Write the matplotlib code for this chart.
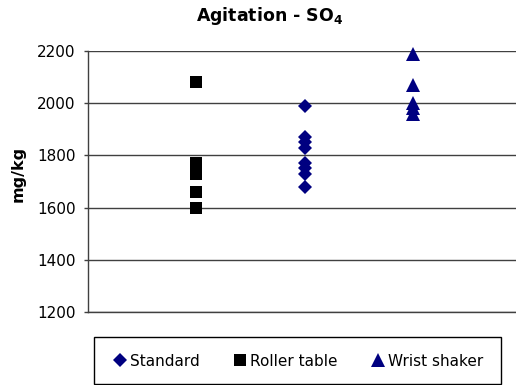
import matplotlib
matplotlib.use("Agg")
import matplotlib.pyplot as plt
from matplotlib.patches import Rectangle

plt.rcParams['font.family'] = ['DejaVu Sans']
plt.rcParams['mathtext.fontset'] = 'custom'
plt.rcParams['mathtext.rm'] = 'DejaVu Sans'
plt.rcParams['mathtext.bf'] = 'DejaVu Sans:bold'
plt.rcParams['mathtext.default'] = 'bf'

title = r'Agitation - SO$_4$'
ylabel = 'mg/kg'
series_names = ['Standard', 'Roller table', 'Wrist shaker']
series_x = [2, 1, 3]
standard = [1990, 1870, 1850, 1830, 1770, 1750, 1730, 1680]
roller_table = [2080, 1770, 1750, 1730, 1660, 1600]
wrist_shaker = [2190, 2070, 2000, 1980, 1960]
y_ticks = [1200, 1400, 1600, 1800, 2000, 2200]

W, H = 516, 385
fig = plt.figure(figsize=(W / 100, H / 100), dpi=100)
ax = fig.add_axes([88 / W, 1 - 312 / H, (521 - 88) / W, (312 - 51) / H])

navy = '#000080'
styles = [dict(marker='D', color=navy, ms=7.5),
          dict(marker='s', color='black', ms=9),
          dict(marker='^', color=navy, ms=9.5)]
data = [standard, roller_table, wrist_shaker]
handles = []
for name, xv, vals, st in zip(series_names, series_x, data, styles):
    h, = ax.plot([xv] * len(vals), vals, linestyle='none', marker=st['marker'],
                 color=st['color'], markersize=st['ms'], markeredgewidth=0,
                 label=name, zorder=3, clip_on=False)
    handles.append(h)

ax.set_xlim(0, 4)
ax.set_ylim(1200, 2200)
ax.set_yticks(y_ticks)
ax.set_xticks([])
ax.yaxis.grid(True, color='#404040', linewidth=1.0)
ax.set_axisbelow(True)
for s in ['top', 'right']:
    ax.spines[s].set_visible(False)
for s in ['left', 'bottom']:
    ax.spines[s].set_color('#404040')
    ax.spines[s].set_linewidth(1.0)
ax.tick_params(axis='y', length=3, width=1, color='#404040', pad=6, labelsize=11)

fig.text(270 / W, 1 - 16 / H, title, ha='center', va='center',
         fontsize=12.5, fontweight='bold')
fig.text(18 / W, 1 - 174 / H, ylabel, ha='center', va='center',
         rotation=90, fontsize=11.5, fontweight='bold')

# legend box
fig.patches.append(Rectangle((94 / W, 1 - 384 / H), (501 - 94) / W, (384 - 337) / H,
                             transform=fig.transFigure, fill=False,
                             edgecolor='black', linewidth=1.0))
fig.legend(handles=handles, loc='center', bbox_to_anchor=(298.5 / W, 1 - 361 / H),
           ncol=3, frameon=False, fontsize=11, handlelength=0.8,
           handletextpad=0.29, columnspacing=2.2, borderaxespad=0)

fig.savefig('out.png', dpi=100)
